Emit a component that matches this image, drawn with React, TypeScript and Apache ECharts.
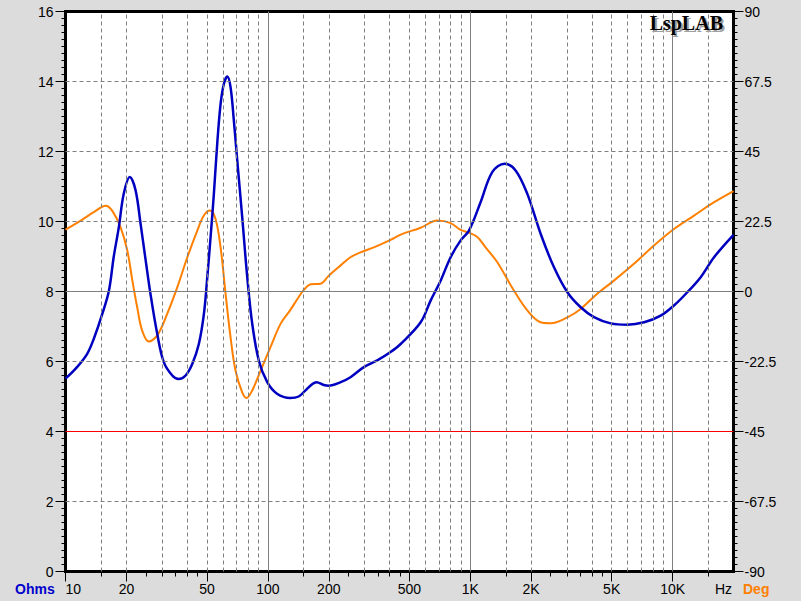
import React, { useEffect, useRef } from "react";
import * as echarts from "echarts";

// ---- Data ----
const impedanceFreq = [10, 11.4, 12.8, 13.8, 15.2, 16.4, 17.3, 18.35, 19.4, 20.8, 22.2, 23.5, 24.9, 26.3, 28.4, 30.6, 33.7, 36.3, 39.2, 42.3, 45.6, 48.3, 50.2, 52.1, 54.1, 56.2, 58.4, 60.6, 63, 65.4, 67.9, 70.6, 74.7, 79.1, 83.7, 90.2, 99.3, 111, 129, 142, 153, 166, 174, 189, 200, 229, 256, 298, 347, 404, 453, 569, 637, 714, 800, 897, 986, 1125, 1285, 1479, 1676, 1915, 2228, 2594, 3020, 3515, 4087, 4943, 5979, 7230, 8737, 10160, 11830, 13770, 16030, 20000];
const impedanceOhms = [5.51, 5.84, 6.22, 6.65, 7.36, 8.03, 8.98, 9.84, 10.79, 11.27, 10.89, 9.93, 8.89, 7.93, 6.79, 5.98, 5.6, 5.5, 5.6, 5.93, 6.5, 7.36, 8.41, 9.55, 10.79, 12.22, 13.36, 13.93, 14.14, 13.84, 12.89, 11.74, 10.12, 8.41, 7.08, 6.03, 5.41, 5.08, 4.96, 5.0, 5.17, 5.36, 5.41, 5.33, 5.31, 5.41, 5.55, 5.84, 6.03, 6.27, 6.5, 7.12, 7.74, 8.31, 8.98, 9.46, 9.74, 10.55, 11.41, 11.65, 11.46, 10.79, 9.65, 8.69, 7.98, 7.55, 7.27, 7.09, 7.05, 7.12, 7.31, 7.6, 7.98, 8.41, 8.98, 9.62];

const phaseFreq = [10, 11.9, 13.8, 15.8, 17, 18.7, 20.2, 21.4, 22.6, 23.9, 25.8, 28.4, 31.8, 35.7, 40, 44.8, 48.3, 51.7, 55.1, 58.4, 61.8, 65.4, 69.2, 74.7, 78.5, 83.7, 92.1, 103, 115.5, 129, 140, 150.6, 163, 182, 200, 229, 256, 287, 334, 404, 453, 569, 687, 800, 897, 986, 1084, 1191, 1361, 1644, 1915, 2228, 2495, 3020, 3515, 4244, 5130, 6440, 8090, 10160, 12760, 16030, 20000];
const phaseDeg = [19.9, 22.8, 25.5, 27.6, 26, 20.7, 13.2, 3.5, -5, -12.5, -16.1, -14.1, -7.2, 1.4, 11, 19.6, 24.4, 26, 23.4, 14.2, -0.7, -14.7, -25.4, -32.4, -34.2, -31.8, -25.4, -17.9, -10.4, -6, -2.4, 0.5, 2.3, 2.5, 5.1, 8.4, 11, 12.6, 14.2, 16.6, 18.3, 20.5, 22.8, 22, 19.8, 18.9, 17.5, 14.2, 9.4, 0.3, -6.1, -9.9, -10.2, -8.3, -5.6, -0.7, 3.5, 8.9, 14.8, 20.1, 24.4, 28.7, 32.3];

// ---- Axis ticks / grid values ----
const freqRange = [10, 20000];
const freqLabelTicks = [10, 20, 50, 100, 200, 500, 1000, 2000, 5000, 10000];
const freqShortTicks = [15, 25, 30, 35, 40, 45, 150, 250, 300, 350, 400, 450, 1500, 2500, 3000, 3500, 4000, 4500, 15000];
const freqDashedGrid = [15, 20, 30, 40, 50, 60, 70, 80, 90, 150, 200, 300, 400, 500, 600, 700, 800, 900, 1500, 2000, 3000, 4000, 5000, 6000, 7000, 8000, 9000, 15000];
const freqSolidGrid = [100, 1000, 10000];
const ohmDashedGrid = [2, 6, 10, 12, 14];
const ohmSolidGrid = [8];
const ohmRedLine = 4;

const GRID_LEFT = 65.5;
const GRID_TOP = 11.5;
const GRID_W = 668;
const GRID_H = 560;
const FONT = "'Liberation Sans', Arial, sans-serif";

function fmtFreq(v: number): string {
  const r = Math.round(v);
  if (r >= 1000) return r / 1000 + "K";
  return String(r);
}

function gridSeries(name: string, data: any[], lineStyle: any, z: number) {
  return {
    name,
    type: "line",
    data: [],
    xAxisIndex: 0,
    yAxisIndex: 0,
    z,
    silent: true,
    color: lineStyle.color,
    markLine: {
      silent: true,
      symbol: ["none", "none"],
      label: { show: false },
      animation: false,
      lineStyle,
      emphasis: { disabled: true },
      data,
    },
  };
}

export default function App() {
  const ref = useRef<HTMLDivElement>(null);

  useEffect(() => {
    if (!ref.current) return;
    const chart = echarts.init(ref.current, null, { renderer: "svg" });

    const dashed = { color: "#808080", width: 1, type: [4, 3] as any };
    const solid = { color: "#808080", width: 1, type: "solid" };

    const dashedData: any[] = [
      ...freqDashedGrid.map((f) => ({ xAxis: f })),
      ...ohmDashedGrid.map((v) => ({ yAxis: v })),
    ];
    const solidData: any[] = [
      ...freqSolidGrid.map((f) => ({ xAxis: f })),
      ...ohmSolidGrid.map((v) => ({ yAxis: v })),
    ];

    const axisLabelStyle = { color: "#000", fontFamily: FONT, fontSize: 14 };
    const logoFont = "bold 20px 'Liberation Serif', 'Times New Roman', serif";

    chart.setOption({
      animation: false,
      backgroundColor: "#dcdcdc",
      grid: {
        left: GRID_LEFT,
        top: GRID_TOP,
        width: GRID_W,
        height: GRID_H,
        show: true,
        backgroundColor: "#ffffff",
        borderColor: "#000",
        borderWidth: 3,
      },
      xAxis: [
        {
          type: "log",
          logBase: 10,
          min: freqRange[0],
          max: freqRange[1],
          position: "bottom",
          axisLine: { show: true, onZero: false, lineStyle: { color: "#000", width: 3 } },
          axisTick: { show: true, length: 10, lineStyle: { color: "#000", width: 1 }, customValues: freqLabelTicks },
          axisLabel: {
            show: true,
            ...axisLabelStyle,
            margin: 10,
            customValues: freqLabelTicks,
            formatter: (v: number) => fmtFreq(v),
            alignMinLabel: "left",
          },
          splitLine: { show: false },
          minorTick: { show: false },
        },
        {
          type: "log",
          logBase: 10,
          min: freqRange[0],
          max: freqRange[1],
          position: "bottom",
          offset: 0,
          axisLine: { show: false },
          axisTick: { show: true, length: 5, lineStyle: { color: "#000", width: 1 }, customValues: freqShortTicks },
          axisLabel: { show: false },
          splitLine: { show: false },
        },
      ],
      yAxis: [
        {
          type: "value",
          min: 0,
          max: 16,
          interval: 2,
          position: "left",
          axisLine: { show: true, onZero: false, lineStyle: { color: "#000", width: 3 } },
          axisTick: { show: true, length: 10, lineStyle: { color: "#000", width: 1 } },
          minorTick: { show: true, splitNumber: 10, length: 4, lineStyle: { color: "#000", width: 1 } },
          axisLabel: { ...axisLabelStyle, margin: 12 },
          splitLine: { show: false },
        },
        {
          type: "value",
          min: -90,
          max: 90,
          interval: 22.5,
          position: "right",
          axisLine: { show: true, onZero: false, lineStyle: { color: "#000", width: 3 } },
          axisTick: { show: true, length: 10, lineStyle: { color: "#000", width: 1 } },
          minorTick: { show: true, splitNumber: 10, length: 4, lineStyle: { color: "#000", width: 1 } },
          axisLabel: { ...axisLabelStyle, margin: 11, formatter: (v: number) => String(v) },
          splitLine: { show: false },
        },
      ],
      series: [
        gridSeries("gridDashed", dashedData, dashed, 1),
        gridSeries("gridSolid", solidData, solid, 1),
        {
          name: "nominal",
          type: "line",
          xAxisIndex: 0,
          yAxisIndex: 0,
          z: 2,
          silent: true,
          data: freqRange.map((f) => [f, ohmRedLine]),
          showSymbol: false,
          symbol: "none",
          lineStyle: { color: "#ff0000", width: 1 },
          itemStyle: { color: "#ff0000" },
        },
        {
          name: "Phase",
          type: "line",
          xAxisIndex: 0,
          yAxisIndex: 1,
          z: 3,
          data: phaseFreq.map((f, i) => [f, phaseDeg[i]]),
          smooth: 0.35,
          showSymbol: false,
          lineStyle: { color: "#ff8000", width: 2 },
          itemStyle: { color: "#ff8000" },
        },
        {
          name: "Impedance",
          type: "line",
          xAxisIndex: 0,
          yAxisIndex: 0,
          z: 4,
          data: impedanceFreq.map((f, i) => [f, impedanceOhms[i]]),
          smooth: 0.35,
          showSymbol: false,
          lineStyle: { color: "#0000c0", width: 2.5 },
          itemStyle: { color: "#0000c0" },
        },
      ],
      graphic: [
        {
          type: "text",
          left: 15,
          top: 582,
          style: { text: "Ohms", font: `bold 14px ${FONT}`, fill: "#0000cc" },
        },
        {
          type: "text",
          left: 715,
          top: 582,
          style: { text: "Hz", font: `14px ${FONT}`, fill: "#000" },
        },
        {
          type: "text",
          left: 743,
          top: 582,
          style: { text: "Deg", font: `bold 14px ${FONT}`, fill: "#ff8000" },
        },
        {
          type: "text",
          x: 725,
          y: 35,
          z: 10,
          style: {
            text: "LspLAB",
            font: logoFont,
            fill: "#a0a0a0",
            align: "right",
            verticalAlign: "bottom",
          },
        },
        {
          type: "text",
          x: 723,
          y: 33,
          z: 11,
          style: {
            text: "LspLAB",
            font: logoFont,
            fill: "#000",
            align: "right",
            verticalAlign: "bottom",
          },
        },
      ],
    });

    return () => chart.dispose();
  }, []);

  return (
    <div
      ref={ref}
      style={{ position: "fixed", left: 0, top: 0, width: 801, height: 601 }}
    />
  );
}
